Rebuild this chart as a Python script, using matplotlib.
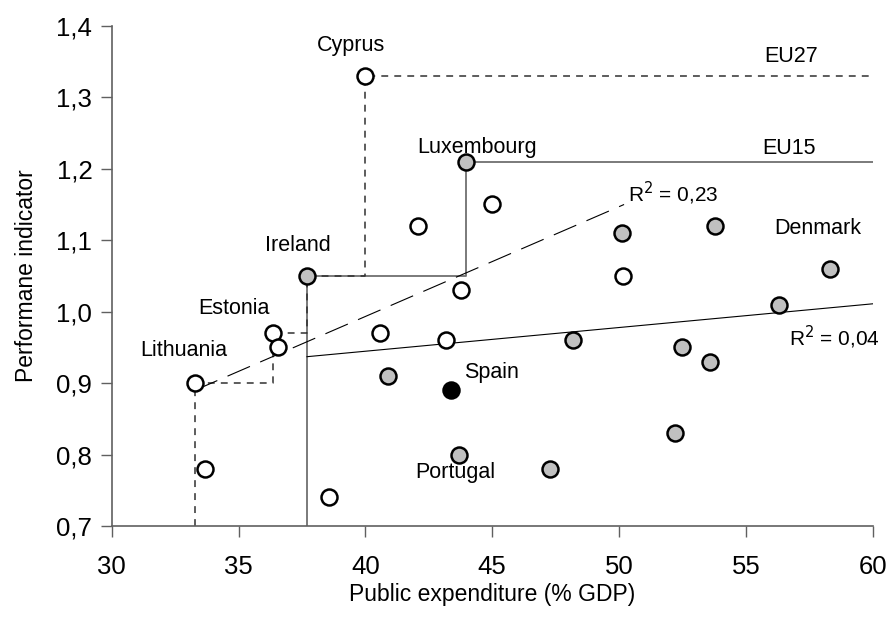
import matplotlib.pyplot as plt
from matplotlib.ticker import FuncFormatter

plt.rcParams['font.family'] = ['Liberation Sans', 'DejaVu Sans']

# new member states (open circles)
new_x = [40.0, 33.28, 36.36, 36.55, 33.67, 38.57, 40.58, 43.19, 43.78, 42.08, 45.0, 50.17]
new_y = [1.33, 0.90, 0.97, 0.95, 0.78, 0.74, 0.97, 0.96, 1.03, 1.12, 1.15, 1.05]

# EU15 (grey circles), Spain excluded
old_x = [37.7, 43.98, 40.9, 43.7, 47.29, 48.2, 50.1, 53.8, 52.5, 53.57, 52.19, 56.3, 58.3]
old_y = [1.05, 1.21, 0.91, 0.80, 0.78, 0.96, 1.11, 1.12, 0.95, 0.93, 0.83, 1.01, 1.06]

spain_x = [43.38]
spain_y = [0.89]

# frontiers
eu27_fx = [33.28, 33.28, 36.36, 36.36, 37.7, 37.7, 40.0, 40.0, 60.0]
eu27_fy = [0.70, 0.90, 0.90, 0.97, 0.97, 1.05, 1.05, 1.33, 1.33]
eu15_fx = [37.7, 37.7, 43.98, 43.98, 60.0]
eu15_fy = [0.70, 1.05, 1.05, 1.21, 1.21]

# trend lines
trend27_x = [33.28, 50.2]
trend27_y = [0.89, 1.15]
trend15_x = [37.7, 60.0]
trend15_y = [0.937, 1.011]

labels = {
	'Cyprus': (39.45, 1.373), 'Luxembourg': (44.42, 1.23), 'Ireland': (37.35, 1.092),
	'Estonia': (34.8, 1.004), 'Lithuania': (32.85, 0.946), 'Spain': (44.98, 0.915),
	'Portugal': (43.55, 0.775), 'Denmark': (57.84, 1.117), 'EU27': (56.78, 1.357),
	'EU15': (56.7, 1.229),
}

fig = plt.figure(figsize=(8.9, 6.19), dpi=100)
ax = fig.add_axes([0.1255, 0.1502, 0.855, 0.808])

ax.plot(eu15_fx, eu15_fy, color='#707070', lw=1.3, zorder=2)
ax.plot(eu27_fx, eu27_fy, color='#303030', lw=1.1, dashes=(4.5, 4), zorder=2)
ax.plot(trend27_x, trend27_y, color='black', lw=0.8, dashes=(22, 10), zorder=2)
ax.plot(trend15_x, trend15_y, color='black', lw=0.8, zorder=2)

mk = dict(ls='none', marker='o', ms=11.5, mec='black', mew=1.8, zorder=3, clip_on=False)
ax.plot(new_x, new_y, mfc='white', **mk)
ax.plot(old_x, old_y, mfc='#c0c0c0', **mk)
ax.plot(spain_x, spain_y, mfc='black', **mk)

for name, (x, y) in labels.items():
	ax.text(x, y, name, fontsize=15.5, ha='center', va='center')
ax.text(50.35, 1.166, r'R$^2$ = 0,23', fontsize=15, ha='left', va='center')
ax.text(56.7, 0.964, r'R$^2$ = 0,04', fontsize=15, ha='left', va='center')

ax.set_xlim(30, 60)
ax.set_ylim(0.7, 1.4)
ax.set_xticks(range(30, 61, 5))
ax.set_yticks([0.7, 0.8, 0.9, 1.0, 1.1, 1.2, 1.3, 1.4])
ax.yaxis.set_major_formatter(FuncFormatter(lambda v, p: f'{v:.1f}'.replace('.', ',')))
ax.tick_params(labelsize=18.5, length=8, width=1, color='#606060', direction='out')
ax.tick_params(axis='x', pad=13)
ax.tick_params(axis='y', pad=6)
for s in ['top', 'right']:
	ax.spines[s].set_visible(False)
for s in ['left', 'bottom']:
	ax.spines[s].set_color('#606060')
	ax.spines[s].set_linewidth(1.2)

ax.set_xlabel('Public expenditure (% GDP)', fontsize=16.5, labelpad=3)
ax.set_ylabel('Performane indicator', fontsize=16.5, labelpad=13)

fig.savefig('out.png', dpi=100)
